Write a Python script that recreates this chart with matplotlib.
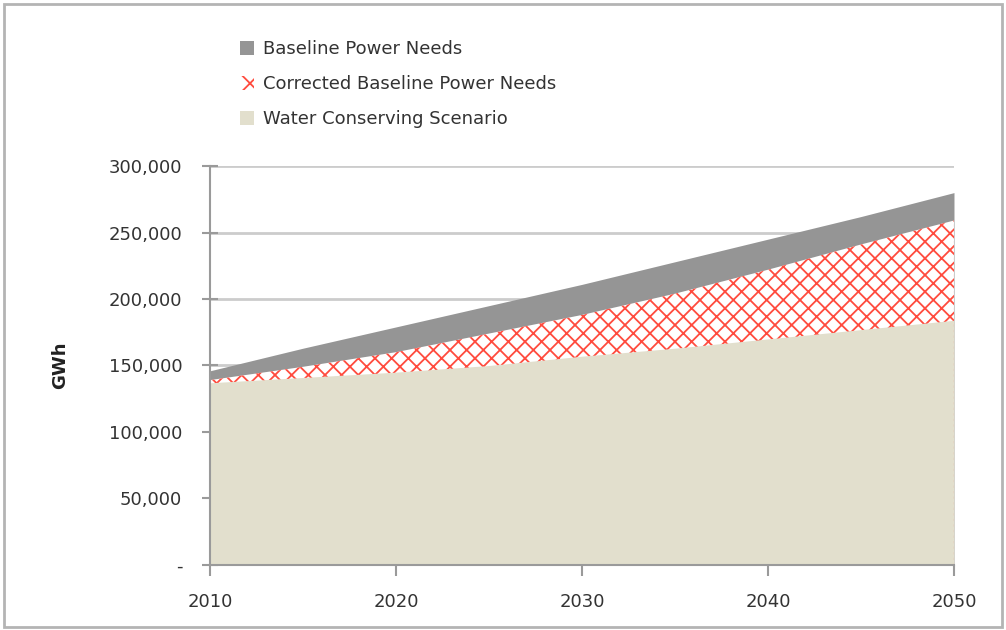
import matplotlib
matplotlib.use("Agg")
import matplotlib.pyplot as plt
from matplotlib.patches import Rectangle, Patch
from matplotlib.ticker import FuncFormatter

# values (GWh)
years = [2010, 2015, 2020, 2025, 2030, 2035, 2040, 2045, 2050]
baseline = [146000, 163000, 179000, 195000, 211000, 228000, 245000, 262000, 280000]
corrected = [139000, 149000, 160000, 174000, 188000, 204000, 222000, 241000, 259000]
water = [137000, 141000, 145000, 150000, 157000, 163000, 170000, 177000, 184000]

labels = ["Baseline Power Needs", "Corrected Baseline Power Needs", "Water Conserving Scenario"]
x_ticks = [2010, 2020, 2030, 2040, 2050]
y_ticks = [0, 50000, 100000, 150000, 200000, 250000, 300000]

plt.rcParams["font.family"] = ["DejaVu Sans"]
plt.rcParams["hatch.linewidth"] = 1.3
plt.rcParams["hatch.color"] = "#ff4b3e"

fig = plt.figure(figsize=(10.06, 6.30), dpi=100)
ax = fig.add_axes([0.2087, 0.1032, 0.7396, 0.6333])

# outer frame of the picture
fig.patches.append(Rectangle((0.004, 0.004), 0.992, 0.990, transform=fig.transFigure,
                             fill=False, edgecolor="#b4b4b4", linewidth=2))

gray = "#959595"
beige = "#e2dfcd"
red = "#ff4b3e"

ax.fill_between(years, 0, baseline, color=gray, linewidth=0, zorder=2)
ax.fill_between(years, 0, corrected, facecolor="white", edgecolor=red, hatch="xx",
                linewidth=0, zorder=3)
ax.fill_between(years, 0, water, color=beige, linewidth=0, zorder=4)
ax.plot([years[-1], years[-1]], [0, corrected[-1]], color=red, lw=0.8,
        ls=(0, (2, 3)), zorder=5)

ax.set_xlim(2010, 2050)
ax.set_ylim(0, 300000)
ax.set_xticks(x_ticks)
ax.set_yticks(y_ticks)
ax.yaxis.set_major_formatter(FuncFormatter(lambda v, p: "-" if v == 0 else f"{int(v):,}"))

ax.grid(axis="y", color="#cccccc", linewidth=2, zorder=1)
ax.set_axisbelow(True)
for side in ["top", "right"]:
    ax.spines[side].set_visible(False)
for side in ["left", "bottom"]:
    ax.spines[side].set_color("#9a9a9a")
    ax.spines[side].set_linewidth(1.5)
    ax.spines[side].set_zorder(6)

ax.tick_params(axis="y", direction="inout", length=12, width=1.5, color="#9a9a9a",
               labelsize=13, labelcolor="#333333", pad=14)
ax.tick_params(axis="x", direction="out", length=8, width=1.5, color="#9a9a9a",
               labelsize=13, labelcolor="#333333", pad=12)

ax.set_ylabel("GWh", fontsize=13, fontweight="bold", color="#222222", labelpad=28)

handles = [
    Patch(facecolor=gray, edgecolor="none"),
    Patch(facecolor="white", edgecolor=red, hatch="x", linewidth=0),
    Patch(facecolor=beige, edgecolor="none"),
]
leg = fig.legend(handles, labels, loc="upper left", bbox_to_anchor=(0.222, 0.962),
                 frameon=False, fontsize=13, handlelength=0.8, handleheight=0.8,
                 handletextpad=0.5, labelspacing=0.95)
for t in leg.get_texts():
    t.set_color("#333333")

fig.savefig("out.png", dpi=100)
